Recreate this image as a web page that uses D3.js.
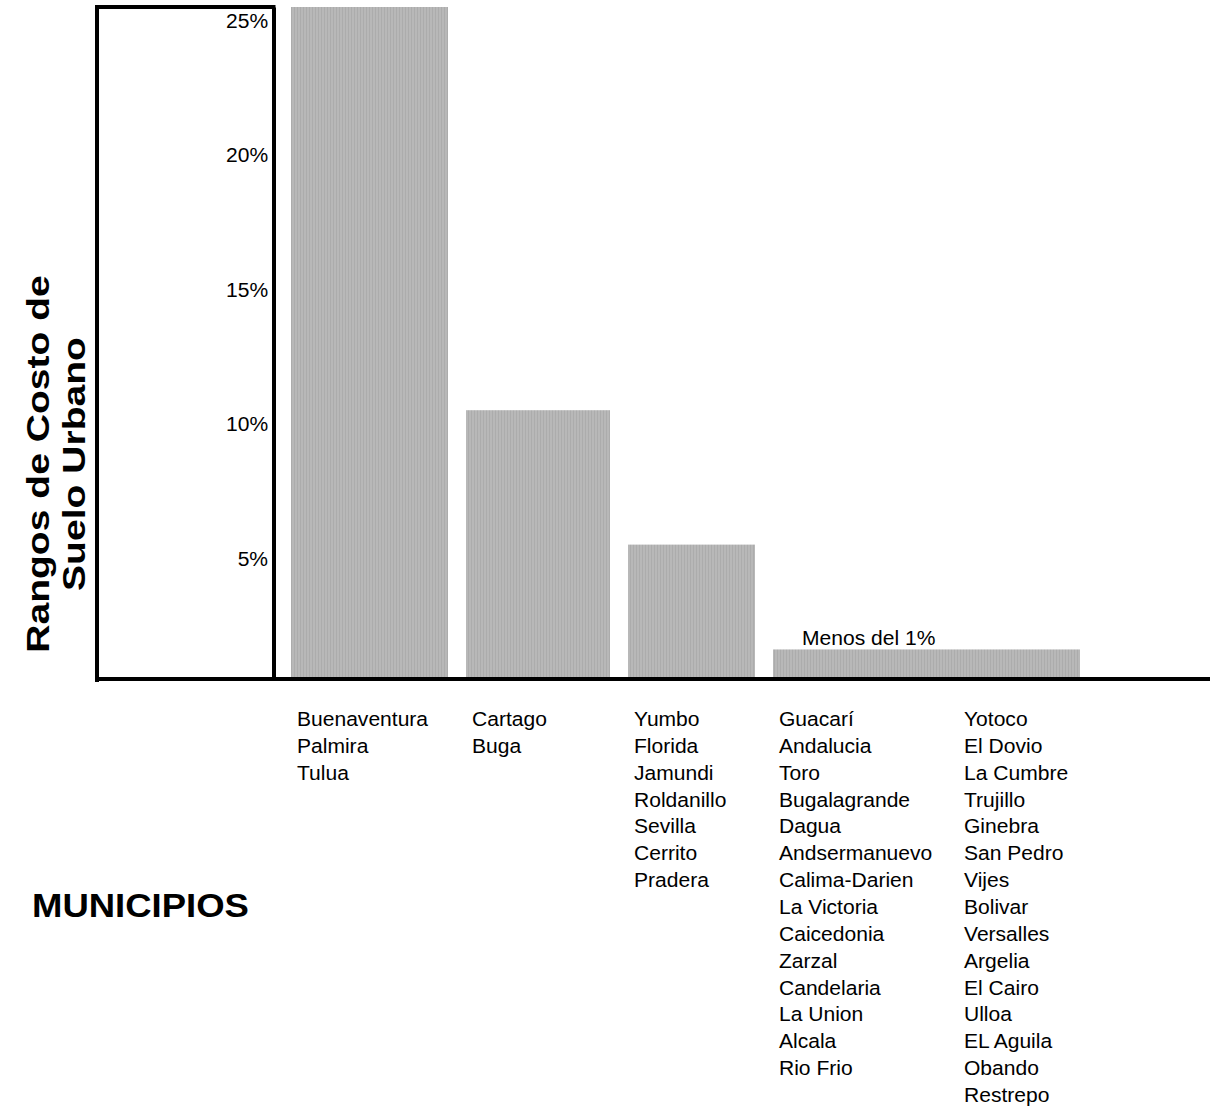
<!DOCTYPE html>
<html>
<head>
<meta charset="utf-8">
<script src="https://cdn.jsdelivr.net/npm/d3@7"></script>
<style>
  body { margin: 0; background: #fff; }
  text { font-family: "Liberation Sans", Arial, sans-serif; fill: #000; }
</style>
</head>
<body>
<div class="visHolder"></div>
<script>
const w = 1216, h = 1106;

// bar values (percent)
const valores = [25, 10, 5, 1.1];
// which label columns each bar covers [start, end)
const columnasBarra = [[0, 1], [1, 2], [2, 3], [3, 5]];
const ticksY = [5, 10, 15, 20, 25];
const notaBarra = 'Menos del 1%';

const municipios = [
  ['Buenaventura', 'Palmira', 'Tulua'],
  ['Cartago', 'Buga'],
  ['Yumbo', 'Florida', 'Jamundi', 'Roldanillo', 'Sevilla', 'Cerrito', 'Pradera'],
  ['Guacarí', 'Andalucia', 'Toro', 'Bugalagrande', 'Dagua', 'Andsermanuevo',
   'Calima-Darien', 'La Victoria', 'Caicedonia', 'Zarzal', 'Candelaria',
   'La Union', 'Alcala', 'Rio Frio'],
  ['Yotoco', 'El Dovio', 'La Cumbre', 'Trujillo', 'Ginebra', 'San Pedro',
   'Vijes', 'Bolivar', 'Versalles', 'Argelia', 'El Cairo', 'Ulloa',
   'EL Aguila', 'Obando', 'Restrepo']
];

const svg = d3.select('.visHolder')
  .append('svg')
  .attr('width', w)
  .attr('height', h);

// striped gray fill for bars
const pat = svg.append('defs').append('pattern')
  .attr('id', 'rayas')
  .attr('patternUnits', 'userSpaceOnUse')
  .attr('width', 3)
  .attr('height', 10);
pat.append('rect').attr('width', 3).attr('height', 10).attr('fill', '#b8b8b8');
pat.append('rect').attr('width', 1).attr('height', 10).attr('fill', '#acacac');

const yScale = d3.scaleLinear()
  .domain([0, 25])
  .range([679, 7]);

// column edges
const xEdge = d3.scaleOrdinal()
  .domain([0, 1, 2, 3, 4, 5])
  .range([291, 466, 628, 773, 958, 1098]);
const gap = 18;

// bars
svg.append('g')
  .selectAll('rect')
  .data(valores)
  .join('rect')
  .attr('x', (d, i) => xEdge(columnasBarra[i][0]))
  .attr('width', (d, i) => xEdge(columnasBarra[i][1]) - xEdge(columnasBarra[i][0]) - gap)
  .attr('y', d => yScale(d))
  .attr('height', d => yScale(0) - yScale(d))
  .attr('fill', 'url(#rayas)');

// note on the small bar
svg.append('text')
  .attr('transform', `translate(${xEdge(3) + 29}, ${yScale(valores[3]) - 4}) scale(1.08,1)`)
  .style('font-size', '19.5px')
  .text(notaBarra);

// frame: left line and top line
svg.append('line')
  .attr('x1', 97).attr('x2', 97)
  .attr('y1', 5).attr('y2', 682)
  .attr('stroke', '#000').attr('stroke-width', 4);
svg.append('line')
  .attr('x1', 95).attr('x2', 275.5)
  .attr('y1', yScale(25)).attr('y2', yScale(25))
  .attr('stroke', '#000').attr('stroke-width', 4);

// y axis
const yAxis = d3.axisLeft(yScale)
  .tickValues(ticksY)
  .tickFormat(d => d + '%')
  .tickSize(0)
  .tickPadding(5);

const gy = svg.append('g')
  .attr('id', 'y-axis')
  .attr('transform', 'translate(273.5, 0)')
  .call(yAxis);
gy.select('.domain').attr('stroke', '#000').attr('stroke-width', 4);
gy.selectAll('text')
  .attr('dy', '20.6px')
  .attr('transform', 'scale(1.08,1)')
  .style('font-size', '19.5px')
  .style('font-family', '"Liberation Sans", Arial, sans-serif')
  .attr('fill', '#000');

// baseline
svg.append('line')
  .attr('x1', 95).attr('x2', 1210)
  .attr('y1', yScale(0)).attr('y2', yScale(0))
  .attr('stroke', '#000').attr('stroke-width', 4);

// municipality lists
const lineH = 26.85;
const listas = svg.append('g');
municipios.forEach((lista, c) => {
  listas.append('g')
    .selectAll('text')
    .data(lista)
    .join('text')
    .attr('transform', (d, i) => `translate(${xEdge(c) + 6}, ${726 + i * lineH}) scale(1.08,1)`)
    .style('font-size', '19.5px')
    .text(d => d);
});

// y title
const tituloY = ['Rangos de Costo de', 'Suelo Urbano'];
svg.append('g')
  .selectAll('text')
  .data(tituloY)
  .join('text')
  .attr('transform', (d, i) => `translate(${49 + i * 36}, 464) rotate(-90) scale(1.26,1)`)
  .attr('text-anchor', 'middle')
  .style('font-size', '31px')
  .style('font-weight', 'bold')
  .text(d => d);

// x title
svg.append('text')
  .attr('transform', 'translate(32, 917) scale(1.09,1)')
  .style('font-size', '33.5px')
  .style('font-weight', 'bold')
  .text('MUNICIPIOS');
</script>
</body>
</html>
